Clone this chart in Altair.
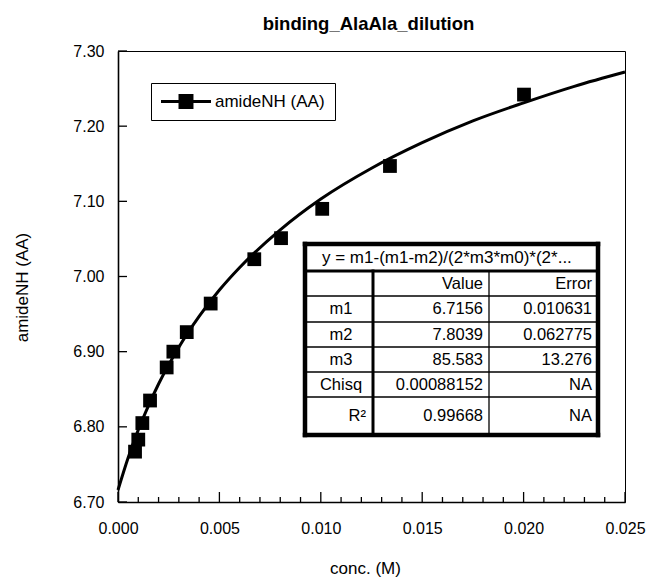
import altair as alt
import pandas as pd

# ---------------- data ----------------
TITLE = "binding_AlaAla_dilution"
SERIES = "amideNH (AA)"
X_TITLE = "conc. (M)"
Y_TITLE = "amideNH (AA)"

CONC = [0.00084, 0.00100, 0.00120, 0.00158, 0.00240, 0.00273, 0.00339,
        0.00457, 0.00672, 0.00804, 0.01007, 0.01341, 0.02002]
SHIFT = [6.767, 6.783, 6.805, 6.835, 6.879, 6.900, 6.926,
         6.964, 7.023, 7.051, 7.090, 7.147, 7.242]

CURVE_CONC = [0.0, 0.0005, 0.001, 0.0015, 0.002, 0.003, 0.004, 0.005, 0.006,
              0.008, 0.010, 0.0125, 0.015, 0.0175, 0.020, 0.0225, 0.025]
CURVE_SHIFT = [6.716, 6.759, 6.796, 6.828, 6.857, 6.906, 6.947, 6.982, 7.012,
               7.062, 7.103, 7.144, 7.178, 7.207, 7.231, 7.253, 7.272]

X_TICKS = [0.000, 0.005, 0.010, 0.015, 0.020, 0.025]
X_MINOR = [0.001, 0.002, 0.003, 0.004, 0.006, 0.007, 0.008, 0.009,
           0.011, 0.012, 0.013, 0.014, 0.016, 0.017, 0.018, 0.019,
           0.021, 0.022, 0.023, 0.024]
Y_TICKS = [6.70, 6.80, 6.90, 7.00, 7.10, 7.20, 7.30]

FORMULA = "y = m1-(m1-m2)/(2*m3*m0)*(2*..."
COL_HEADERS = ["Value", "Error"]
FIT_PARAMS = ["m1", "m2", "m3", "Chisq", "R²"]
FIT_VALUES = ["6.7156", "7.8039", "85.583", "0.00088152", "0.99668"]
FIT_ERRORS = ["0.010631", "0.062775", "13.276", "NA", "NA"]

# ---------------- layout ----------------
W, H = 507, 451
X_DOM = [0.0, 0.025]
Y_DOM = [6.70, 7.30]
FONT = "Liberation Sans"


def cx(px):  # plot pixel -> conc
    return X_DOM[0] + px / W * (X_DOM[1] - X_DOM[0])


def cy(py):  # plot pixel (from top) -> shift
    return Y_DOM[1] - py / H * (Y_DOM[1] - Y_DOM[0])


xs = alt.Scale(domain=X_DOM, nice=False, zero=False)
ys = alt.Scale(domain=Y_DOM, nice=False, zero=False)

pts_df = pd.DataFrame({"conc": CONC, "shift": SHIFT, "series": SERIES})
curve_df = pd.DataFrame({"conc": CURVE_CONC, "shift": CURVE_SHIFT})

x_axis = alt.Axis(values=X_TICKS, format=".3f", ticks=False, tickSize=0, grid=False,
                  labelFlush=False, labelOverlap=False, labelPadding=18,
                  labelFontSize=16, labelFont=FONT, labelColor="black",
                  domainColor="black", domainWidth=1.6,
                  title=X_TITLE, titleFont=FONT, titleFontSize=17,
                  titleFontWeight="normal", titleColor="black",
                  titleX=247, titleY=66, titleBaseline="middle", titleAlign="center")
y_axis = alt.Axis(values=Y_TICKS, format=".2f", ticks=False, tickSize=0, grid=False,
                  labelFlush=False, labelOverlap=False, labelPadding=14,
                  labelFontSize=16, labelFont=FONT, labelColor="black",
                  domainColor="black", domainWidth=1.6,
                  title=Y_TITLE, titleFont=FONT, titleFontSize=17,
                  titleFontWeight="normal", titleColor="black",
                  titleAngle=270, titleX=-96, titleY=236,
                  titleBaseline="middle", titleAlign="center")

curve = alt.Chart(curve_df).mark_line(
    color="black", strokeWidth=3, interpolate="monotone"
).encode(
    x=alt.X("conc:Q", scale=xs, axis=x_axis),
    y=alt.Y("shift:Q", scale=ys, axis=y_axis),
)

LEG_PATH = ("M-1,-0.18H4.88V0.18H-1Z "
            "M1.06,-0.88H2.82V0.88H1.06Z")

points = alt.Chart(pts_df).mark_square(size=190, filled=True, opacity=1).encode(
    x=alt.X("conc:Q", scale=xs),
    y=alt.Y("shift:Q", scale=ys),
    color=alt.Color("series:N", scale=alt.Scale(range=["black"]),
                    legend=alt.Legend(orient="none", legendX=33, legendY=32,
                                      title=None, strokeColor="black",
                                      fillColor="white", padding=10,
                                      symbolType=LEG_PATH, symbolSize=289,
                                      symbolStrokeWidth=0,
                                      labelFont=FONT, labelFontSize=17,
                                      labelColor="black", labelOffset=37)),
)

# ---------------- axis tick marks (inward) ----------------
xmaj_df = pd.DataFrame({"t": X_TICKS})
xmin_df = pd.DataFrame({"t": X_MINOR})
ytk_df = pd.DataFrame({"t": Y_TICKS})

xmaj = alt.Chart(xmaj_df).mark_rule(color="black", strokeWidth=1.3).encode(
    x=alt.X("t:Q", scale=xs), y=alt.datum(cy(H)), y2=alt.datum(cy(H - 10)))
xmin = alt.Chart(xmin_df).mark_rule(color="black", strokeWidth=1.3).encode(
    x=alt.X("t:Q", scale=xs), y=alt.datum(cy(H)), y2=alt.datum(cy(H - 5)))
ytk = alt.Chart(ytk_df).mark_rule(color="black", strokeWidth=1.3).encode(
    y=alt.Y("t:Q", scale=ys), x=alt.datum(cx(0)), x2=alt.datum(cx(9)))

# ---------------- fit result table ----------------
TL, TR, TT, TB = 187, 480, 193, 384
ROWS = [220, 245, 271, 296, 321, 346]  # row boundaries below header
C1, C2 = 255, 371

bg_df = pd.DataFrame({"x": [cx(TL)], "x2": [cx(TR)], "y": [cy(TT)], "y2": [cy(TB)]})
table_bg = alt.Chart(bg_df).mark_rect(fill="white").encode(
    x=alt.X("x:Q", scale=xs), x2="x2", y=alt.Y("y:Q", scale=ys), y2="y2")

lines = []
lines += [(TL, TR, TT, TT, 4.5), (TL, TR, TB, TB, 4.5),
          (TL, TL, TT, TB, 4.5), (TR, TR, TT, TB, 4.5)]
lines.append((TL, TR, ROWS[0], ROWS[0], 3))
for r in ROWS[1:]:
    lines.append((TL, TR, r, r, 1.3))
lines.append((C1, C1, ROWS[0], TB, 3))
lines.append((C2, C2, ROWS[0], TB, 1.3))
lines_df = pd.DataFrame({
    "x": [cx(a) for a, b, c, d, w in lines],
    "x2": [cx(b) for a, b, c, d, w in lines],
    "y": [cy(c) for a, b, c, d, w in lines],
    "y2": [cy(d) for a, b, c, d, w in lines],
    "w": [w for a, b, c, d, w in lines],
})
table_lines = alt.Chart(lines_df).mark_rule(color="black", strokeCap="square").encode(
    x=alt.X("x:Q", scale=xs), x2="x2", y=alt.Y("y:Q", scale=ys), y2="y2",
    strokeWidth=alt.StrokeWidth("w:Q", scale=None))

row_mid = [(ROWS[i] + ROWS[i + 1]) / 2 for i in range(len(ROWS) - 1)] + [(ROWS[-1] + TB) / 2]

head_df = pd.DataFrame({"x": [cx(204)], "y": [cy((TT + ROWS[0]) / 2)], "t": [FORMULA]})
head_txt = alt.Chart(head_df).mark_text(font=FONT, fontSize=17, align="left",
                                         baseline="middle", color="black").encode(
    x=alt.X("x:Q", scale=xs), y=alt.Y("y:Q", scale=ys), text="t:N")

lab_df = pd.DataFrame({"x": [cx(223)] * 4, "y": [cy(v) for v in row_mid[1:5]],
                       "t": FIT_PARAMS[:4]})
lab_txt = alt.Chart(lab_df).mark_text(font=FONT, fontSize=16.5, align="center",
                                       baseline="middle", color="black").encode(
    x=alt.X("x:Q", scale=xs), y=alt.Y("y:Q", scale=ys), text="t:N")

r2_df = pd.DataFrame({"x": [cx(248)], "y": [cy(row_mid[5])], "t": [FIT_PARAMS[4]]})
r2_txt = alt.Chart(r2_df).mark_text(font=FONT, fontSize=16.5, align="right",
                                     baseline="middle", color="black").encode(
    x=alt.X("x:Q", scale=xs), y=alt.Y("y:Q", scale=ys), text="t:N")

right_x, right_y, right_t = [], [], []
right_x += [cx(365), cx(474)]
right_y += [cy(row_mid[0])] * 2
right_t += COL_HEADERS
for i in range(5):
    right_x += [cx(365), cx(474)]
    right_y += [cy(row_mid[i + 1])] * 2
    right_t += [FIT_VALUES[i], FIT_ERRORS[i]]
val_df = pd.DataFrame({"x": right_x, "y": right_y, "t": right_t})
val_txt = alt.Chart(val_df).mark_text(font=FONT, fontSize=16.5, align="right",
                                       baseline="middle", color="black").encode(
    x=alt.X("x:Q", scale=xs), y=alt.Y("y:Q", scale=ys), text="t:N")

chart = alt.layer(
    curve, points, xmaj, xmin, ytk,
    table_bg, table_lines, head_txt, lab_txt, r2_txt, val_txt,
).properties(
    width=W, height=H,
    title=alt.Title(TITLE, font=FONT, fontSize=18.5, fontWeight="bold",
                    color="black", anchor="middle", baseline="alphabetic",
                    offset=22, dy=27, dx=-3),
    autosize=alt.AutoSizeParams(type="none"),
    padding={"left": 118, "top": 51, "right": 22, "bottom": 77},
    background="white",
).configure_view(
    stroke="black", strokeWidth=1
)

chart.save("out.html", embed_options={"renderer": "svg", "actions": False})
